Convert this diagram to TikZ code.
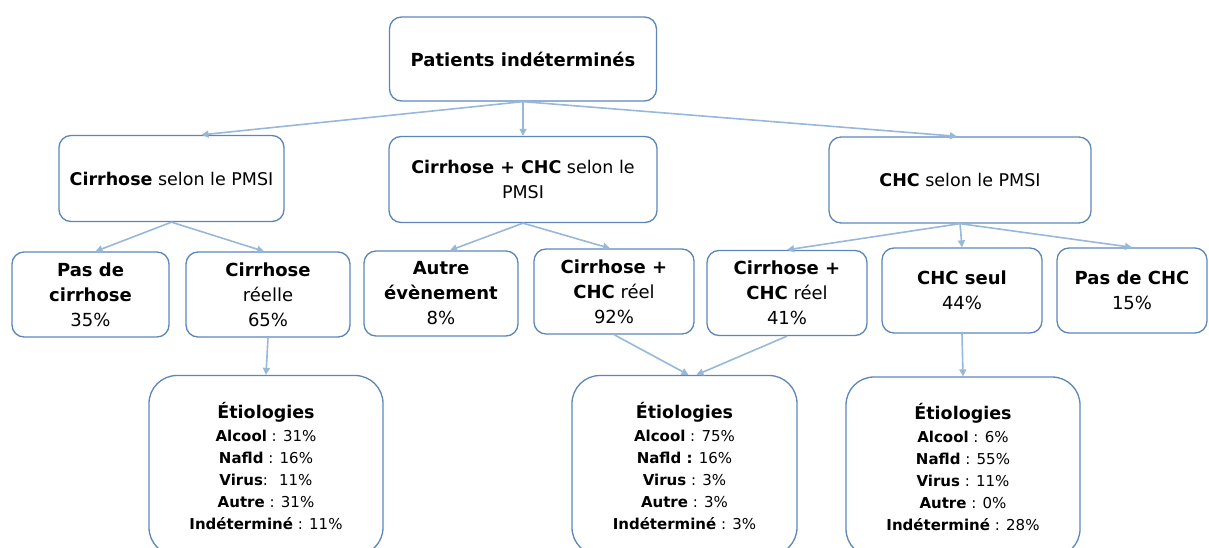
\documentclass[tikz,border=0pt]{standalone}
\usepackage{fontspec}
\setmainfont{DejaVu Sans}
\usetikzlibrary{calc,arrows.meta}
\definecolor{edgec}{HTML}{5A86BA}
\definecolor{linkc}{HTML}{98B8DA}
\tikzset{
  box/.style={draw=edgec, line width=1.3pt, rounded corners=12pt, align=center, inner sep=0pt, text=black},
  rootbox/.style={box, minimum width=267pt, minimum height=84pt, font=\fontsize{18}{24}\selectfont},
  pmsi/.style={box, minimum height=86pt, font=\fontsize{17.5}{25}\selectfont},
  real/.style={box, minimum height=85pt, font=\fontsize{18}{25}\selectfont},
  etio/.style={box, rounded corners=28pt, minimum height=180pt, font=\fontsize{15}{22}\selectfont},
  arrowline/.style={draw=linkc, line width=1.6pt, -{Triangle[length=7pt,width=7pt]}}
}

\begin{document}
\begin{tikzpicture}[x=1pt, y=-1pt]
  \useasboundingbox (0,0) rectangle (1209,548);
  \clip (0,0) rectangle (1209,548);

  % first two levels
  \node[rootbox] (root) at (523,59) {\textbf{Patients indéterminés}};
  \node[pmsi, minimum width=225pt] (cirPmsi) at (171.5,178.5) {\textbf{Cirrhose} selon le PMSI};
  \node[pmsi, minimum width=268pt] (bothPmsi) at (523,179.5) {\textbf{Cirrhose + CHC} selon le\\PMSI};
  \node[pmsi, minimum width=262pt] (chcPmsi) at (960,180) {\textbf{CHC} selon le PMSI};

  \draw[arrowline] (root.south) -- ($(cirPmsi.north)+(30,0)$);
  \draw[arrowline] (root.south) -- (bothPmsi.north);
  \draw[arrowline] (root.south) -- ($(chcPmsi.north)+(-3,0)$);

  % what the files really hold
  \node[real, minimum width=157pt] (noCir) at (90.5,294.5) {\textbf{Pas de}\\\textbf{cirrhose}\\35\%};
  \node[real, minimum width=164pt] (cirReal) at (268,294.5) {\textbf{Cirrhose}\\réelle\\65\%};
  \node[real, minimum width=154pt] (other) at (441,293.5) {\textbf{Autre}\\\textbf{évènement}\\8\%};
  \node[real, minimum width=160pt] (bothA) at (614,291.5) {\textbf{Cirrhose +}\\\textbf{CHC} réel\\92\%};
  \node[real, minimum width=160pt] (bothB) at (787,293) {\textbf{Cirrhose +}\\\textbf{CHC} réel\\41\%};
  \node[real, minimum width=160pt] (chcOnly) at (962,290.5) {\textbf{CHC seul}\\44\%};
  \node[real, minimum width=150pt] (noChc) at (1132,290.5) {\textbf{Pas de CHC}\\15\%};

  \draw[arrowline] (cirPmsi.south) -- ($(noCir.north)+(5,0)$);
  \draw[arrowline] (cirPmsi.south) -- ($(cirReal.north)+(-4,0)$);
  \draw[arrowline] (bothPmsi.south) -- ($(other.north)+(9,0)$);
  \draw[arrowline] (bothPmsi.south) -- ($(bothA.north)+(-4,0)$);
  \foreach \n in {bothB,chcOnly,noChc}
    \draw[arrowline] (chcPmsi.south) -- (\n.north);

  % etiologies
  \node[etio, minimum width=234pt] (etioCir) at (266,465.5) {%
    {\fontsize{17.5}{24}\selectfont\bfseries Étiologies}\\[1pt]
    \textbf{Alcool} : 31\%\\\textbf{Nafld} : 16\%\\\textbf{Virus}:~ 11\%\\
    \textbf{Autre} : 31\%\\\textbf{Indéterminé} : 11\%};
  \node[etio, minimum width=225pt] (etioBoth) at (684.5,465.5) {%
    {\fontsize{17.5}{24}\selectfont\bfseries Étiologies}\\[1pt]
    \textbf{Alcool} : 75\%\\\textbf{Nafld :} 16\%\\\textbf{Virus} : 3\%\\
    \textbf{Autre} : 3\%\\\textbf{Indéterminé} : 3\%};
  \node[etio, minimum width=234pt] (etioChc) at (963,467) {%
    {\fontsize{17.5}{24}\selectfont\bfseries Étiologies}\\[1pt]
    \textbf{Alcool} : 6\%\\\textbf{Nafld} : 55\%\\\textbf{Virus} : 11\%\\
    \textbf{Autre} : 0\%\\\textbf{Indéterminé} : 28\%};

  \draw[arrowline] (cirReal.south) -- (etioCir.north);
  \draw[arrowline] (bothA.south) -- ($(etioBoth.north)+(4,0)$);
  \draw[arrowline] (bothB.south) -- ($(etioBoth.north)+(12,0)$);
  \draw[arrowline] (chcOnly.south) -- (etioChc.north);
\end{tikzpicture}
\end{document}
